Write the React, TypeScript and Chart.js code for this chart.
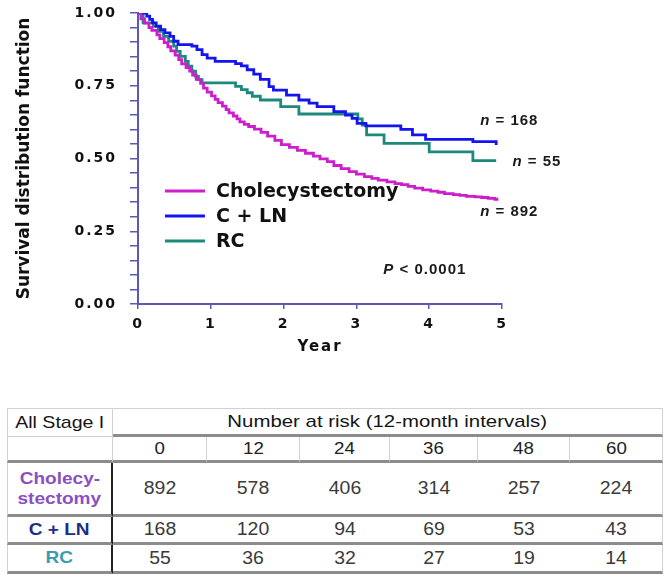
import React, { useEffect, useRef } from 'react';
import { Chart, registerables } from 'chart.js';

Chart.register(...registerables);

// ---------- data ----------
const seriesNames = ['Cholecystectomy', 'C + LN', 'RC'];

const cholTimes = [0, 0.04, 0.09, 0.15, 0.19, 0.26, 0.3, 0.36, 0.41, 0.45, 0.51, 0.56, 0.6, 0.66, 0.71, 0.75, 0.8, 0.86, 0.9, 0.95, 1.01, 1.06, 1.1, 1.16, 1.21, 1.25, 1.31, 1.36, 1.4, 1.46, 1.52, 1.6, 1.69, 1.78, 1.88, 1.97, 2.08, 2.19, 2.3, 2.41, 2.5, 2.6, 2.69, 2.79, 2.9, 3.0, 3.11, 3.21, 3.3, 3.42, 3.53, 3.62, 3.71, 3.8, 3.91, 4.02, 4.12, 4.21, 4.33, 4.42, 4.51, 4.63, 4.72, 4.81, 4.9, 4.95];
const cholSurvival = [1, 0.98, 0.965, 0.95, 0.94, 0.925, 0.912, 0.898, 0.884, 0.87, 0.855, 0.84, 0.825, 0.812, 0.8, 0.787, 0.772, 0.758, 0.742, 0.728, 0.715, 0.703, 0.692, 0.68, 0.668, 0.657, 0.646, 0.636, 0.626, 0.617, 0.61, 0.601, 0.59, 0.577, 0.562, 0.548, 0.538, 0.528, 0.518, 0.508, 0.499, 0.489, 0.476, 0.465, 0.455, 0.446, 0.438, 0.432, 0.426, 0.42, 0.414, 0.41, 0.404, 0.398, 0.392, 0.388, 0.384, 0.379, 0.376, 0.373, 0.37, 0.368, 0.366, 0.363, 0.36, 0.36];

const clnTimes = [0, 0.12, 0.16, 0.2, 0.25, 0.31, 0.37, 0.44, 0.49, 0.55, 0.74, 0.81, 0.88, 0.95, 1.06, 1.34, 1.42, 1.5, 1.59, 1.68, 1.8, 1.86, 2.04, 2.21, 2.35, 2.46, 2.69, 2.85, 2.94, 3.01, 3.13, 3.61, 3.77, 3.95, 4.6, 4.92];
const clnSurvival = [1, 0.989, 0.978, 0.966, 0.955, 0.943, 0.932, 0.92, 0.903, 0.891, 0.886, 0.874, 0.857, 0.845, 0.834, 0.826, 0.818, 0.805, 0.79, 0.772, 0.747, 0.735, 0.718, 0.701, 0.69, 0.678, 0.661, 0.649, 0.638, 0.621, 0.612, 0.6, 0.581, 0.566, 0.558, 0.546];

const rcTimes = [0, 0.07, 0.21, 0.28, 0.35, 0.42, 0.49, 0.53, 0.58, 0.65, 0.69, 0.74, 0.79, 0.83, 0.88, 1.34, 1.42, 1.5, 1.57, 1.68, 1.96, 2.21, 3.02, 3.08, 3.14, 3.38, 4.0, 4.6, 4.92];
const rcSurvival = [1, 0.966, 0.954, 0.937, 0.92, 0.903, 0.886, 0.868, 0.851, 0.834, 0.817, 0.8, 0.782, 0.771, 0.76, 0.748, 0.737, 0.726, 0.714, 0.701, 0.678, 0.653, 0.636, 0.615, 0.581, 0.552, 0.523, 0.493, 0.493];

const groupSizes = ['168', '55', '892'];
const pValueText = 'P';
const pValueRest = ' < 0.0001';

const riskMonths = [0, 12, 24, 36, 48, 60];
const riskChol = [892, 578, 406, 314, 257, 224];
const riskCLN = [168, 120, 94, 69, 53, 43];
const riskRC = [55, 36, 32, 27, 19, 14];

const yTitle = 'Survival distribution function';
const xTitle = 'Year';

// ---------- styles ----------
const lineColors = ['#cc1ecc', '#1414ee', '#1b8a7c'];
const axisColor = '#5a5ab4';
const textColor = '#111111';
const chartFont = '"DejaVu Sans", Verdana, sans-serif';
const labelFont = '"Liberation Sans", Arial, sans-serif';

const toPoints = (xs: number[], ys: number[]) => xs.map((x, i) => ({ x, y: ys[i] }));

const overlayPlugin = {
  id: 'overlay',
  beforeDraw(chart: any) {
    chart.ctx.letterSpacing = '2px';
  },
  afterDraw(chart: any) {
    const { ctx, chartArea } = chart;
    const xs = chart.scales.x;
    const ys = chart.scales.y;
    ctx.save();
    ctx.letterSpacing = '0px';
    ctx.fillStyle = textColor;

    // y-axis title
    ctx.save();
    ctx.translate(25, (chartArea.top + chartArea.bottom) / 2);
    ctx.rotate(-Math.PI / 2);
    ctx.font = `bold 17px ${chartFont}`;
    ctx.textAlign = 'center';
    ctx.textBaseline = 'middle';
    ctx.fillText(yTitle, 0, 0);
    ctx.restore();

    // legend inside plot
    const lx = xs.getPixelForValue(0.37);
    const ly = ys.getPixelForValue(0.388);
    chart.data.datasets.forEach((ds: any, i: number) => {
      const yy = ly + i * 25;
      ctx.strokeStyle = ds.borderColor;
      ctx.lineWidth = 3;
      ctx.beginPath();
      ctx.moveTo(lx, yy);
      ctx.lineTo(lx + 40, yy);
      ctx.stroke();
      ctx.font = `bold 19px ${chartFont}`;
      ctx.textAlign = 'left';
      ctx.textBaseline = 'middle';
      ctx.fillStyle = textColor;
      ctx.fillText(ds.label, lx + 51, yy + 1);
    });

    const drawPair = (first: string, rest: string, cxVal: number, cyVal: number) => {
      const cx = xs.getPixelForValue(cxVal);
      const cy = ys.getPixelForValue(cyVal);
      ctx.letterSpacing = '1px';
      ctx.font = `italic bold 15px ${labelFont}`;
      const w1 = ctx.measureText(first).width;
      ctx.font = `bold 15px ${labelFont}`;
      const w2 = ctx.measureText(rest).width;
      const start = cx - (w1 + w2) / 2;
      ctx.textAlign = 'left';
      ctx.textBaseline = 'middle';
      ctx.fillStyle = '#1a1a1a';
      ctx.font = `italic bold 15px ${labelFont}`;
      ctx.fillText(first, start, cy);
      ctx.font = `bold 15px ${labelFont}`;
      ctx.fillText(rest, start + w1, cy);
    };
    drawPair('n', ' = ' + groupSizes[0], 5.1, 0.629);
    drawPair('n', ' = ' + groupSizes[1], 5.48, 0.49);
    drawPair('n', ' = ' + groupSizes[2], 5.1, 0.318);
    drawPair(pValueText, pValueRest, 3.94, 0.117);
    ctx.restore();
  },
};

function SurvivalChart() {
  const ref = useRef<HTMLCanvasElement | null>(null);
  useEffect(() => {
    if (!ref.current) return;
    const tickFont = { family: chartFont, size: 14, weight: 'bold' as const };
    const chart = new Chart(ref.current, {
      type: 'line',
      data: {
        datasets: [
          { label: seriesNames[0], data: toPoints(cholTimes, cholSurvival), borderColor: lineColors[0], backgroundColor: lineColors[0] },
          { label: seriesNames[1], data: toPoints(clnTimes, clnSurvival), borderColor: lineColors[1], backgroundColor: lineColors[1] },
          { label: seriesNames[2], data: toPoints(rcTimes, rcSurvival), borderColor: lineColors[2], backgroundColor: lineColors[2] },
        ],
      },
      options: {
        responsive: false,
        animation: false,
        devicePixelRatio: 1,
        layout: { padding: { left: 0, top: 13, right: 168, bottom: 0 } },
        plugins: { legend: { display: false }, tooltip: { enabled: false } },
        elements: {
          point: { radius: 0, hoverRadius: 0 },
          line: { borderWidth: 2.8, tension: 0, stepped: 'before' },
        },
        scales: {
          x: {
            type: 'linear',
            min: 0,
            max: 5,
            afterFit: (s: any) => { s.height = 66; s.paddingLeft = 0; s.paddingRight = 0; },
            border: { display: true, color: axisColor, width: 2 },
            grid: { drawOnChartArea: false, drawTicks: true, color: axisColor, tickLength: 5, lineWidth: 1.5 },
            ticks: { stepSize: 1, font: tickFont, color: textColor, padding: 7, autoSkip: false, maxRotation: 0 },
            title: { display: true, text: xTitle, font: { family: chartFont, size: 15, weight: 'bold' }, color: textColor, padding: { top: 0, bottom: 14 } },
          },
          y: {
            min: 0,
            max: 1,
            afterFit: (s: any) => { s.width = 138; s.paddingTop = 0; s.paddingBottom = 0; },
            border: { display: true, color: axisColor, width: 2 },
            grid: { drawOnChartArea: false, drawTicks: true, color: axisColor, tickLength: 8, lineWidth: 1.5 },
            ticks: {
              stepSize: 0.05,
              autoSkip: false,
              font: tickFont,
              color: textColor,
              padding: 13,
              callback: (v: any) => {
                const n = Number(v);
                return Math.abs(n * 4 - Math.round(n * 4)) < 1e-6 ? n.toFixed(2) : '';
              },
            },
          },
        },
      },
      plugins: [overlayPlugin],
    });
    return () => chart.destroy();
  }, []);
  return (
    <canvas
      ref={ref}
      width={670}
      height={370}
      style={{ position: 'absolute', left: 0, top: 0, width: 670, height: 370 }}
    />
  );
}

const thick = '3px solid #8c8c8c';
const light = '1px solid #d2d2d2';

const cellBase: React.CSSProperties = {
  padding: 0,
  boxSizing: 'border-box',
  textAlign: 'center',
  verticalAlign: 'middle',
  fontFamily: labelFont,
  color: '#3a3a3a',
  whiteSpace: 'nowrap',
};

const Stretch = ({ k, children }: { k: number; children: React.ReactNode }) => (
  <span style={{ display: 'inline-block', transform: `scaleX(${k})` }}>{children}</span>
);

const colWidths = [106, 94, 93, 90, 88, 92, 93];

function RiskTable() {
  const rows = [
    { label: ['Cholecy-', 'stectomy'], color: '#8a4fc2', values: riskChol, h: 54 },
    { label: ['C + LN'], color: '#1c2d8a', values: riskCLN, h: 28 },
    { label: ['RC'], color: '#3d9bb0', values: riskRC, h: 29 },
  ];
  return (
    <table
      style={{
        position: 'absolute',
        left: 7,
        top: 408,
        width: 656,
        borderCollapse: 'separate',
        borderSpacing: 0,
        tableLayout: 'fixed',
      }}
    >
      <colgroup>
        {colWidths.map((w, i) => (
          <col key={i} style={{ width: w }} />
        ))}
      </colgroup>
      <tbody>
        <tr>
          <td style={{ ...cellBase, height: 29, borderTop: light, borderLeft: light, borderRight: light, borderBottom: light, fontSize: 17, color: '#151515' }}>
            <Stretch k={1.15}>All Stage I</Stretch>
          </td>
          <td colSpan={6} style={{ ...cellBase, height: 29, borderTop: light, borderRight: light, borderBottom: thick, fontSize: 17, color: '#151515' }}>
            <Stretch k={1.2}>Number at risk (12-month intervals)</Stretch>
          </td>
        </tr>
        <tr>
          <td style={{ ...cellBase, height: 26, borderLeft: light, borderRight: light, borderBottom: thick }} />
          {riskMonths.map((m, i) => (
            <td key={i} style={{ ...cellBase, height: 26, borderRight: light, borderBottom: thick, fontSize: 17, color: '#222' }}>
              <Stretch k={1.1}>{m}</Stretch>
            </td>
          ))}
        </tr>
        {rows.map((r, ri) => (
          <tr key={ri}>
            <td style={{ ...cellBase, height: r.h, borderLeft: light, borderRight: '2px solid #222', borderBottom: thick, fontSize: 17, fontWeight: 'bold', color: r.color, lineHeight: '20px' }}>
              {r.label.map((t, ti) => (
                <div key={ti}>
                  <Stretch k={1.12}>{t}</Stretch>
                </div>
              ))}
            </td>
            {r.values.map((v, vi) => (
              <td key={vi} style={{ ...cellBase, height: r.h, borderBottom: thick, borderRight: vi === r.values.length - 1 ? light : 'none', fontSize: 18 }}>
                <Stretch k={1.08}>{v}</Stretch>
              </td>
            ))}
          </tr>
        ))}
      </tbody>
    </table>
  );
}

export default function App() {
  return (
    <div style={{ position: 'absolute', left: 0, top: 0, width: 670, height: 580, background: '#ffffff', overflow: 'hidden' }}>
      <SurvivalChart />
      <RiskTable />
    </div>
  );
}
